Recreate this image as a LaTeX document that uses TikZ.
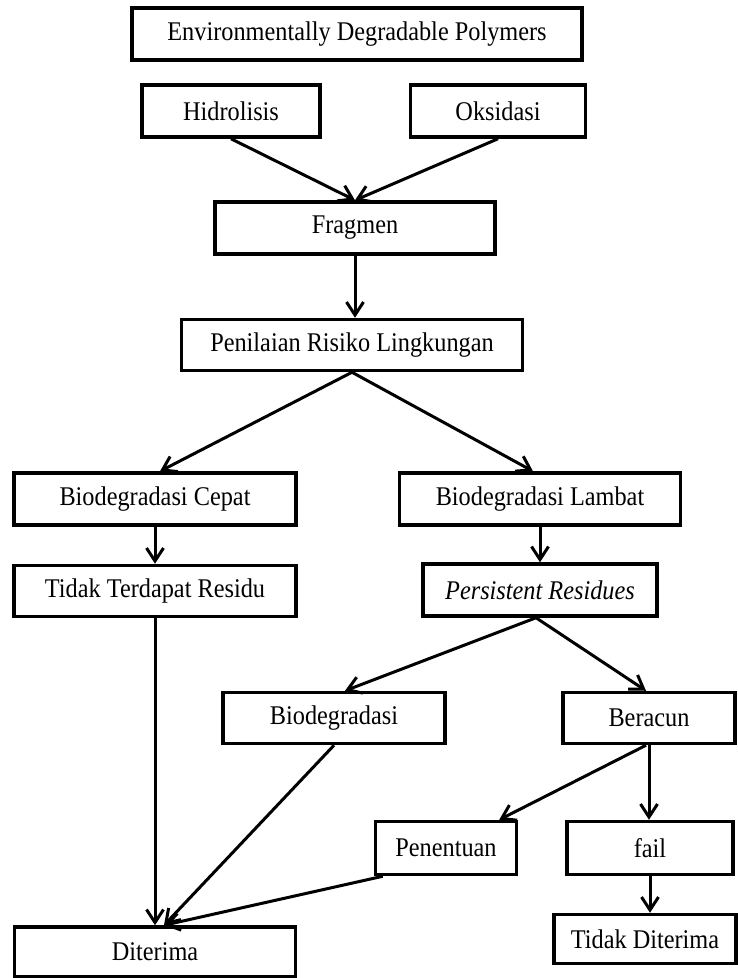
\documentclass[tikz,border=0pt]{standalone}
\usepackage{fontspec}
\setmainfont{Liberation Serif}[FakeStretch=0.9]
\usetikzlibrary{arrows.meta}
\tikzset{
  kotak/.style={draw, line width=3.5pt, inner sep=0pt, font=\fontsize{27}{30}\selectfont},
  panah/.style={line width=3pt, -{Straight Barb[length=13pt,width=17pt]}}
}
\begin{document}
\begin{tikzpicture}[x=1pt,y=-1pt]
  \useasboundingbox (0,0) rectangle (737,978);
  \node[kotak, minimum width=450pt, minimum height=52pt] (env) at (357,34) {Environmentally Degradable Polymers};
  \node[kotak, minimum width=178pt, minimum height=52pt] (hidro) at (231,111) {Hidrolisis};
  \node[kotak, minimum width=175pt, minimum height=52pt] (oksi) at (498,111) {Oksidasi}; %atas
  \node[kotak, minimum width=280pt, minimum height=52pt] (frag) at (355,228) {Fragmen};
  \node[kotak, minimum width=341pt, minimum height=51pt] (nilai) at (352,345) {Penilaian Risiko Lingkungan};
  \node[kotak, minimum width=282pt, minimum height=52pt] (cepat) at (155,499) {Biodegradasi Cepat};
  \node[kotak, minimum width=281pt, minimum height=52pt] (lambat) at (540,499) {Biodegradasi Lambat};
  \node[kotak, minimum width=282pt, minimum height=51pt] (residu) at (155,591) {Tidak Terdapat Residu};
  \node[kotak, minimum width=234pt, minimum height=52pt] (persist) at (540,590) {\itshape Persistent Residues}; %tengah
  \node[kotak, minimum width=222pt, minimum height=51pt] (biodeg) at (334,718) {Biodegradasi};
  \node[kotak, minimum width=172pt, minimum height=51pt] (racun) at (649,718) {Beracun};
  \node[kotak, minimum width=141pt, minimum height=53pt] (tentu) at (446,848) {Penentuan};
  \node[kotak, minimum width=166pt, minimum height=53pt] (fail) at (650,848) {fail};
  \node[kotak, minimum width=281pt, minimum height=50pt] (terima) at (155,952) {Diterima};
  \node[kotak, minimum width=182pt, minimum height=49pt] (tolak) at (645,939) {Tidak Diterima}; %bawah

  \draw[panah] (hidro.south) -- (frag.north);
  \draw[panah] (oksi.south) -- (frag.north);
  \draw[panah] (frag.south) -- (frag.south |- nilai.north);
  \draw[panah] (nilai.south) -- ([xshift=5pt]cepat.north);
  \draw[panah] (nilai.south) -- ([xshift=-7pt]lambat.north); %cabang
  \draw[panah] (cepat.south) -- (residu.north);
  \draw[panah] (lambat.south) -- (persist.north);
  \draw[panah] ([xshift=-4pt]persist.south) -- ([xshift=11pt]biodeg.north);
  \draw[panah] ([xshift=-4pt]persist.south) -- ([xshift=-3pt]racun.north);
  \draw[panah] (residu.south) -- (terima.north);
  \draw[panah] (biodeg.south) -- ([xshift=9pt]terima.north);
  \draw[panah] ([xshift=9pt]tentu.south west) -- ([xshift=9pt]terima.north);
  \draw[panah] ([xshift=-3pt]racun.south) -- ([xshift=-19pt]tentu.north east);
  \draw[panah] (racun.south) -- (racun.south |- fail.north);
  \draw[panah] (fail.south) -- (fail.south |- tolak.north); %kanan bawah
\end{tikzpicture}
\end{document}
